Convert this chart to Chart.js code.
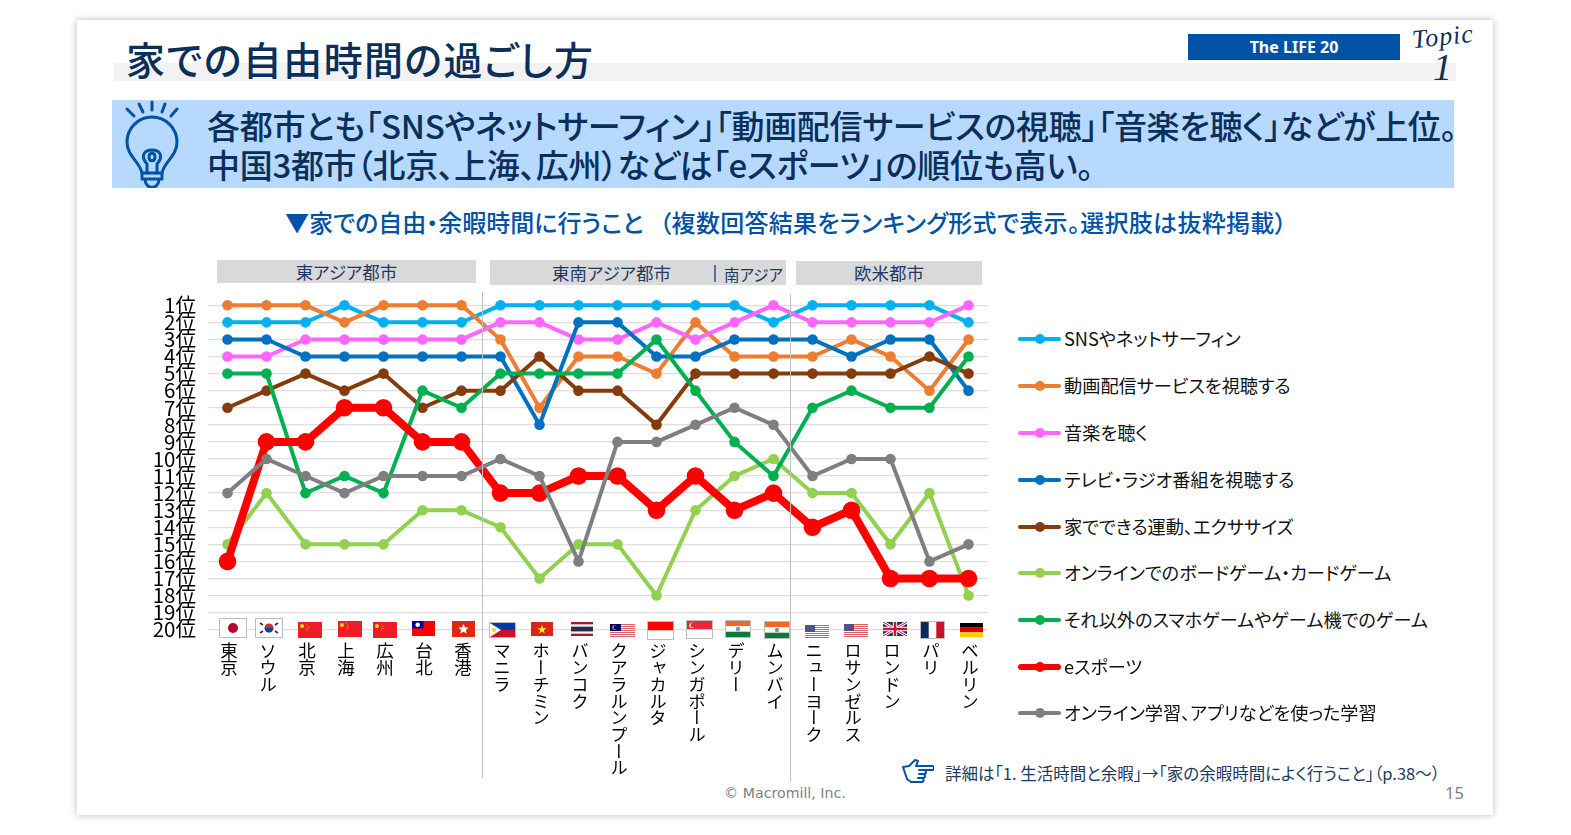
<!DOCTYPE html>
<html lang="ja">
<head>
<meta charset="utf-8">
<title>家での自由時間の過ごし方</title>
<script src="https://cdn.jsdelivr.net/npm/chart.js@4"></script>
<style>
html,body{margin:0;padding:0;background:#fff;width:1571px;height:835px;overflow:hidden;font-family:"Noto Sans CJK JP","Noto Sans",sans-serif;}
.abs{position:absolute;white-space:nowrap;}
.palt{font-feature-settings:"palt";}
#card{left:77px;top:20px;width:1416px;height:795px;background:#fff;box-shadow:0 0 7px rgba(0,0,0,.28);}
#chart{position:absolute;left:140px;top:281px;}
.group{background:#d9d9d9;color:#1f3864;font-size:17.5px;line-height:24px;text-align:center;font-weight:400;}
.divider{background:#bfbfbf;width:1px;}
.city{position:absolute;top:642px;writing-mode:vertical-rl;font-size:17.5px;line-height:20px;letter-spacing:-.8px;color:#000;font-weight:400;white-space:nowrap;}
.flag{position:absolute;display:block;}
.legline{position:absolute;border-radius:3px;}
.legdot{position:absolute;border-radius:50%;}
.legtxt{position:absolute;left:1064px;font-size:18.2px;line-height:24px;color:#111;font-weight:400;white-space:nowrap;font-feature-settings:"palt";}
</style>
</head>
<body>
<div class="abs" id="card"></div>
<div class="abs" style="left:114px;top:63px;width:1342px;height:18px;background:#f2f2f2"></div>
<div class="abs palt" style="left:126px;top:31px;font-size:39px;line-height:54px;color:#0b2f5b;font-weight:500;letter-spacing:1.4px">家での自由時間の過ごし方</div>
<div class="abs" style="left:1188px;top:34px;width:212px;height:26px;background:#0052a4"></div>
<div class="abs" style="left:1188px;top:34px;width:212px;line-height:26px;text-align:center;color:#fff;font-size:16px;font-weight:700;font-family:'Noto Sans'">The LIFE 20</div>
<div class="abs" style="left:1412px;top:21px;font-family:'Liberation Serif';font-style:italic;font-size:26px;line-height:32px;color:#10305c;transform:rotate(-6deg);letter-spacing:1px">Topic</div>
<div class="abs" style="left:1433px;top:47px;font-family:'Liberation Serif';font-style:italic;font-size:38px;line-height:40px;color:#10305c">1</div>

<div class="abs" style="left:112px;top:100px;width:1342px;height:88px;background:#b7d9fe"></div>
<svg class="abs" style="left:122px;top:100px" width="60" height="88" viewBox="0 0 60 88" fill="none" stroke="#0052a4" stroke-width="3" stroke-linecap="round" stroke-linejoin="round">
  <path d="M5 9l7 7M17 4l4 8M30 2v8M43 4l-3 8M55 9l-6 7"/>
  <path d="M20 73C18 62 5 56 5 42A25 25 0 0 1 55 42C55 56 42 62 40 73Z"/>
  <path d="M25 73V64C18 56 22 50 30 50C38 50 42 56 35 64V73M27 57C27 52 33 52 33 57C33 62 27 62 27 57Z"/>
  <path d="M20 73V79H40V73M23 79C23 90 37 90 37 79"/>
</svg>
<div class="abs palt" style="left:207px;top:102px;font-size:33px;line-height:46px;color:#0b2f5b;font-weight:500;letter-spacing:-.3px">各都市とも「SNSやネットサーフィン」「動画配信サービスの視聴」「音楽を聴く」などが上位。</div>
<div class="abs palt" style="left:207px;top:141px;font-size:33px;line-height:46px;color:#0b2f5b;font-weight:500;letter-spacing:-.3px">中国3都市（北京、上海、広州）などは「eスポーツ」の順位も高い。</div>

<div class="abs palt" style="left:285px;top:205px;font-size:24px;line-height:34px;color:#0052a4;font-weight:500">▼家での自由・余暇時間に行うこと<span style="margin-left:16px;letter-spacing:.3px">（複数回答結果をランキング形式で表示。選択肢は抜粋掲載）</span></div>

<div class="abs group palt" style="left:217px;top:260px;width:259px;height:23px">東アジア都市</div>
<div class="abs group palt" style="left:490px;top:260px;width:296px;height:25px"><span style="position:absolute;left:62px;top:1px">東南アジア都市</span><span style="position:absolute;left:224px;top:5px;width:2px;height:17px;background:#5b7398"></span><span style="position:absolute;left:234px;top:2px;font-size:15.5px">南アジア</span></div>
<div class="abs group palt" style="left:796px;top:261px;width:186px;height:24px">欧米都市</div>

<canvas id="chart" width="860" height="373"></canvas>
<div class="abs divider" style="left:482px;top:292px;height:486px"></div>
<div class="abs divider" style="left:790px;top:294px;height:488px"></div>

<svg class="abs" style="left:902px;top:758px" width="32" height="26" viewBox="0 0 32 26" fill="none" stroke="#0052a4" stroke-width="2" stroke-linejoin="round" stroke-linecap="round">
  <path d="M1 9l6-1 6-6 3 1-2 5h16a2 2 0 0 1 0 4h-8a2 2 0 0 1 0 4h-1a2 2 0 0 1 0 4h-1a2 2 0 0 1-1 4H9L5 21z"/>
  <path d="M17 12h6M17 16h5M16 20h5"/>
</svg>
<div class="abs palt" style="left:945px;top:761px;font-size:16.5px;line-height:24px;color:#1f3864;font-weight:400">詳細は「1. 生活時間と余暇」→「家の余暇時間によく行うこと」（p.38～）</div>
<div class="abs" style="left:724px;top:783px;font-family:'DejaVu Sans';font-size:14.2px;line-height:20px;color:#7f7f7f">© Macromill, Inc.</div>
<div class="abs" style="left:1445px;top:783px;font-family:'Noto Sans';font-size:16.5px;line-height:20px;color:#7f7f7f">15</div>

<script>
const cities = ["東京", "ソウル", "北京", "上海", "広州", "台北", "香港", "マニラ", "ホーチミン", "バンコク", "クアラルンプール", "ジャカルタ", "シンガポール", "デリー", "ムンバイ", "ニューヨーク", "ロサンゼルス", "ロンドン", "パリ", "ベルリン"];
const rankLabels = ["1位", "2位", "3位", "4位", "5位", "6位", "7位", "8位", "9位", "10位", "11位", "12位", "13位", "14位", "15位", "16位", "17位", "18位", "19位", "20位"];

const snsRank = [2, 2, 2, 1, 2, 2, 2, 1, 1, 1, 1, 1, 1, 1, 2, 1, 1, 1, 1, 2];
const videoRank = [1, 1, 1, 2, 1, 1, 1, 3, 7, 4, 4, 5, 2, 4, 4, 4, 3, 4, 6, 3];
const musicRank = [4, 4, 3, 3, 3, 3, 3, 2, 2, 3, 3, 2, 3, 2, 1, 2, 2, 2, 2, 1];
const tvRank = [3, 3, 4, 4, 4, 4, 4, 4, 8, 2, 2, 4, 4, 3, 3, 3, 4, 3, 3, 6];
const workoutRank = [7, 6, 5, 6, 5, 7, 6, 6, 4, 6, 6, 8, 5, 5, 5, 5, 5, 5, 4, 5];
const boardGameRank = [15, 12, 15, 15, 15, 13, 13, 14, 17, 15, 15, 18, 13, 11, 10, 12, 12, 15, 12, 18];
const mobileGameRank = [5, 5, 12, 11, 12, 6, 7, 5, 5, 5, 5, 3, 6, 9, 11, 7, 6, 7, 7, 4];
const esportsRank = [16, 9, 9, 7, 7, 9, 9, 12, 12, 11, 11, 13, 11, 13, 12, 14, 13, 17, 17, 17];
const studyRank = [12, 10, 11, 12, 11, 11, 11, 10, 11, 16, 9, 9, 8, 7, 8, 11, 10, 10, 16, 15];

const seriesNames = ["SNSやネットサーフィン", "動画配信サービスを視聴する", "音楽を聴く", "テレビ・ラジオ番組を視聴する", "家でできる運動、エクササイズ", "オンラインでのボードゲーム・カードゲーム", "それ以外のスマホゲームやゲーム機でのゲーム", "eスポーツ", "オンライン学習、アプリなどを使った学習"];
const seriesValues = [snsRank, videoRank, musicRank, tvRank, workoutRank, boardGameRank, mobileGameRank, esportsRank, studyRank];
const seriesColors = ["#00b0f0", "#ed7d31", "#ff66ff", "#0070c0", "#843c0c", "#92d050", "#00b050", "#ff0000", "#7f7f7f"];

// flags per city
const flagCodes = ["jp", "kr", "cn", "cn", "cn", "tw", "hk", "ph", "vn", "th", "my", "id", "sg", "in", "in", "us", "us", "gb", "fr", "de"];

function isRed(i) { return seriesNames[i] === "eスポーツ"; }

const chart = new Chart('chart', {
    type: 'line',
    data: {
        labels: cities,
        datasets: seriesNames.map((name, i) => ({
            label: name,
            data: seriesValues[i],
            borderColor: seriesColors[i],
            backgroundColor: seriesColors[i],
            borderWidth: isRed(i) ? 8 : 4,
            pointRadius: isRed(i) ? 8.8 : 5.3,
            pointBorderWidth: 0,
            tension: 0,
            clip: false,
            order: seriesNames.length - i // last one ends up on top
        }))
    },
    options: {
        responsive: false,
        animation: false,
        layout: { padding: { top: 0, bottom: 0, right: 12, left: 0 } },
        plugins: { legend: { display: false }, tooltip: { enabled: false } },
        scales: {
            x: { display: false, offset: true },
            y: {
                reverse: true,
                min: 1,
                max: 20,
                afterFit: s => { s.width = 68; },
                border: { display: false },
                grid: { color: "#dedede", lineWidth: 1.3, drawTicks: false },
                ticks: {
                    stepSize: 1,
                    autoSkip: false,
                    padding: 12,
                    color: "#000",
                    font: { family: '"Noto Sans CJK JP"', size: 20.5, weight: 400 },
                    callback: v => rankLabels[v - 1]
                }
            }
        }
    }
});

// city names go vertically, canvas can't do that so use spans at the tick position
cities.forEach((c, i) => {
    const el = document.createElement('div');
    el.className = 'city';
    el.textContent = c;
    el.style.left = (140 + chart.scales.x.getPixelForValue(i) - 9) + 'px';
    document.body.appendChild(el);
});

// small flags
const flagOffsetX = [5, 2, 4, 5, 1, 1, 2, 2, 2, 3, 5, 4, 4, 3, 3, 4, 4, 4, 3, 3];
const flagOffsetY = [628, 628, 630, 629, 630, 628, 629, 630, 629, 629, 630, 630, 629, 629, 630, 631, 630, 629, 630, 630];
function flagSvg(code) {
    const stripes = [0, 2, 4, 6, 8, 10, 12].map(y => `<rect y="${y}" width="24" height="1" fill="#d9606a"/>`).join('');
    const us = '<rect width="24" height="13" fill="#fff"/>' + stripes + '<rect width="10" height="7" fill="#4f5288"/>';
    const parts = {
        jp: [26, 18, '<rect width="26" height="18" fill="#fff"/><circle cx="13" cy="9" r="5" fill="#bc002d"/>'],
        kr: [26, 18, '<rect width="26" height="18" fill="#fff"/><circle cx="13" cy="9" r="4.5" fill="#cd2e3a"/><path d="M8.6 9a4.4 4.4 0 0 0 8.8 0z" fill="#0047a0"/><path d="M4 4l3 2M22 4l-3 2M4 14l3-2M22 14l-3-2" stroke="#333" stroke-width="1.6"/>'],
        cn: [24, 16, '<rect width="24" height="16" fill="#ee1c25"/><circle cx="4" cy="4" r="2" fill="#ffde00"/><circle cx="8.5" cy="2" r=".6" fill="#ffde00"/><circle cx="10" cy="4" r=".6" fill="#ffde00"/><circle cx="10" cy="6.5" r=".6" fill="#ffde00"/><circle cx="8.5" cy="8" r=".6" fill="#ffde00"/>'],
        tw: [23, 15, '<rect width="23" height="15" fill="#fe0000"/><rect width="11.5" height="7.5" fill="#000095"/><circle cx="5.7" cy="3.7" r="2.3" fill="#fff"/>'],
        hk: [23, 16, '<rect width="23" height="16" fill="#de2910"/><path d="M11.5 3l1.5 3.3 3.6.4-2.7 2.4.8 3.5-3.2-1.8-3.2 1.8.8-3.5-2.7-2.4 3.6-.4z" fill="#fff"/>'],
        ph: [25, 14, '<rect width="25" height="7" fill="#0038a8"/><rect y="7" width="25" height="7" fill="#ce1126"/><path d="M0 0l11 7L0 14z" fill="#fff"/><circle cx="4" cy="7" r="2" fill="#fcd116"/>'],
        vn: [22, 14, '<rect width="22" height="14" fill="#da251d"/><path d="M11 3l1.2 3.2h3.3l-2.7 2 1 3.3-2.8-2-2.8 2 1-3.3-2.7-2h3.3z" fill="#ff0"/>'],
        th: [22, 14, '<rect width="22" height="14" fill="#a51931"/><rect y="2.3" width="22" height="9.4" fill="#f4f5f8"/><rect y="4.7" width="22" height="4.7" fill="#2d2a4a"/>'],
        my: [25, 13, '<rect width="25" height="13" fill="#fff"/>' + stripes.replace(/width="24"/g, 'width="25"') + '<rect width="11" height="7" fill="#010066"/><circle cx="4.6" cy="3.5" r="2.3" fill="#ffcc00"/><circle cx="5.4" cy="3.5" r="1.9" fill="#010066"/>'],
        id: [25, 17, '<rect width="25" height="8.5" fill="#ff0000"/><rect y="8.5" width="25" height="8.5" fill="#fff"/>'],
        sg: [25, 17, '<rect width="25" height="8.5" fill="#ee2536"/><rect y="8.5" width="25" height="8.5" fill="#fff"/><circle cx="5" cy="4.2" r="2.6" fill="#fff"/><circle cx="6" cy="4.2" r="2.4" fill="#ee2536"/>'],
        in: [24, 16, '<rect width="24" height="5.3" fill="#f4672a"/><rect y="5.3" width="24" height="5.4" fill="#fff"/><rect y="10.7" width="24" height="5.3" fill="#0c7a3a"/><circle cx="12" cy="8" r="2.2" fill="#8e8eb8"/>'],
        us: [24, 13, us],
        gb: [24, 14, '<rect width="24" height="14" fill="#1c2a68"/><path d="M0 0l24 14M24 0L0 14" stroke="#fff" stroke-width="3"/><path d="M0 0l24 14M24 0L0 14" stroke="#cf142b" stroke-width="1"/><path d="M12 0v14M0 7h24" stroke="#fff" stroke-width="4.5"/><path d="M12 0v14M0 7h24" stroke="#cf142b" stroke-width="2.6"/>'],
        fr: [23, 16, '<rect width="23" height="16" fill="#fff"/><rect width="7.7" height="16" fill="#0b2a5b"/><rect x="15.3" width="7.7" height="16" fill="#ce1126"/>'],
        de: [23, 14, '<rect width="23" height="4.7" fill="#000"/><rect y="4.7" width="23" height="4.7" fill="#dd0000"/><rect y="9.3" width="23" height="4.7" fill="#ffce00"/>']
    };
    return parts[code];
}
const framed = ["jp", "kr", "ph", "id", "sg", "in", "fr"];
flagCodes.forEach((code, i) => {
    const [w, h, inner] = flagSvg(code);
    const holder = document.createElement('div');
    holder.className = 'flag';
    holder.innerHTML = `<svg width="${w}" height="${h}" viewBox="0 0 ${w} ${h}" style="display:block">${inner}</svg>`;
    holder.style.left = (140 + chart.scales.x.getPixelForValue(i) + flagOffsetX[i] - w / 2) + 'px';
    holder.style.top = (flagOffsetY[i] - h / 2) + 'px';
    if (framed.includes(code)) {
        holder.style.outline = '1.5px solid #bdbdbd';
    }
    document.body.appendChild(holder);
});

// legend on the right
const legendY = [339, 386, 432.5, 479.5, 526.5, 573, 620, 666.5, 713];
seriesNames.forEach((name, i) => {
    const thick = isRed(i) ? 6 : 4;
    const r = 5;
    const line = document.createElement('div');
    line.className = 'legline';
    line.style.cssText = `left:1018px;top:${legendY[i] - thick / 2}px;width:43px;height:${thick}px;background:${seriesColors[i]}`;
    const dot = document.createElement('div');
    dot.className = 'legdot';
    dot.style.cssText = `left:${1040 - r}px;top:${legendY[i] - r}px;width:${2 * r}px;height:${2 * r}px;background:${seriesColors[i]}`;
    const txt = document.createElement('div');
    txt.className = 'legtxt';
    txt.textContent = name;
    txt.style.top = (legendY[i] - 13) + 'px';
    document.body.append(line, dot, txt);
});
</script>
</body>
</html>
